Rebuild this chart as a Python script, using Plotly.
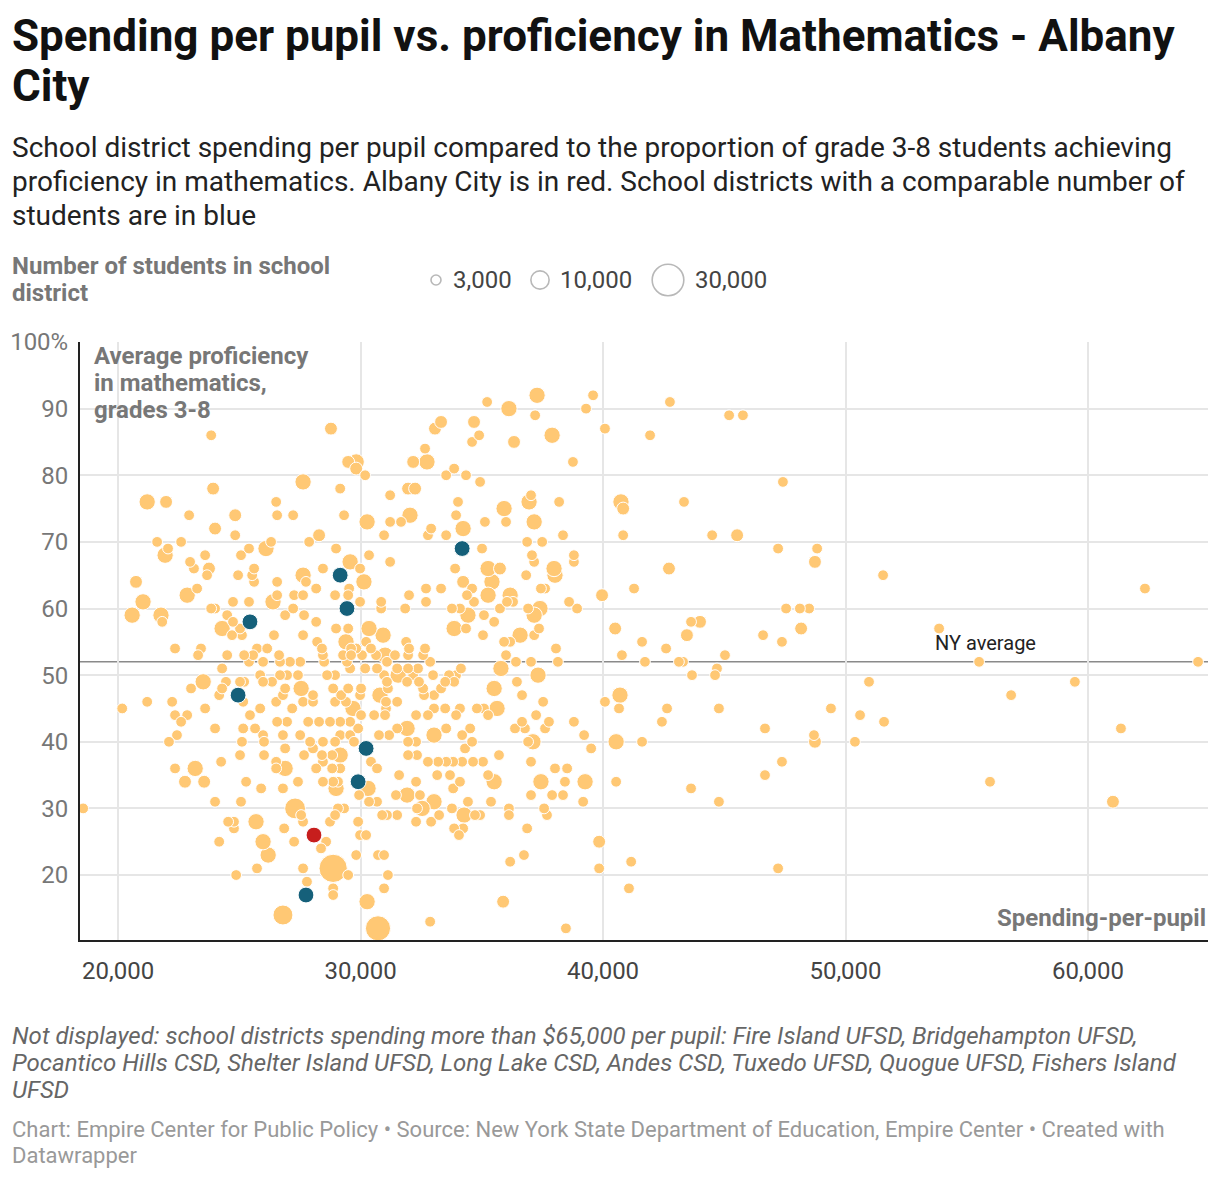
import pandas as pd
import plotly.graph_objects as go

# School districts (orange): spending per pupil ($), % proficient in math (grades 3-8), enrolled students
spending = [
    37280, 39590,                                              # 92
    35220, 42760,                                              # 91
    36120, 39300,                                              # 90
    37200, 45200, 45770,                                       # 89
    33320, 34680,                                              # 88
    28780, 33070, 40080,                                       # 87
    23840, 34890, 37900, 41940,                                # 86
    34600, 36330,                                              # 85
    32660,                                                     # 84
    29490, 29820, 32170, 32740, 38760,                         # 82
    29820, 33860,                                              # 81
    30190, 33530, 34350,                                       # 80
    27630, 34930, 47420,                                       # 79
    23920, 29160, 31960, 32250,                                # 78
    31220, 37030,                                              # 77
    21200, 21980, 26520, 34020, 36950, 38190, 40740, 43340,    # 76
    35920, 40830,                                              # 75
    22930, 24830, 26560, 27220, 29320, 32040, 33940,           # 74
    30270, 31220, 31670, 35130, 36000, 37160,                  # 73
    24000, 32910, 34230,                                       # 72
    24830, 28290, 30970, 32780, 33530, 38350, 40830, 44500, 45530,  # 71
    21610, 22600, 26310, 27880, 36870, 37490,                  # 70
    22060, 25400, 26100, 28990, 35010, 47220, 48830,           # 69
    21940, 23590, 25070, 30350, 37070, 38800,                  # 68
    22970, 29570, 31220, 37160, 38800, 48740,                  # 67
    23130, 23750, 25610, 28450, 29980, 33900, 35260, 35750, 37980, 42720,  # 66
    23670, 24950, 25530, 27630, 36830, 38020, 51550,           # 65
    20740, 25610, 26560, 27750, 30140, 34230, 35420,           # 64
    23260, 28170, 29530, 32700, 33320, 34600, 37440, 37610, 41280, 62350,  # 63
    22850, 26560, 27260, 27630, 28950, 29490, 32000, 34390, 35260, 36170, 39960,  # 62
    21030, 24740, 25400, 26390, 29980, 30850, 32700, 34680, 36040, 36290, 38600,  # 61
    23840, 24000, 27220, 30850, 31840, 33770, 34100, 35750, 36910, 37400, 38930, 47550, 48120, 48500,  # 60
    20580, 21770, 24500, 26890, 27670, 34430, 35090, 37160,    # 59
    21820, 24740, 28170, 35510, 43630, 44000,                  # 58
    24290, 25030, 28990, 29490, 30350, 33860, 34350, 37360, 40500, 48170, 53860,  # 57
    24700, 25110, 26430, 27630, 30930, 35050, 36580, 37160, 43460, 46600,  # 56
    28210, 29400, 30230, 31880, 35920, 36170, 41610, 47380,    # 55
    22350, 23420, 25730, 26150, 28410, 29610, 29820, 30430, 32000, 32660, 38060, 42600,  # 54
    23300, 24500, 25200, 25570, 26640, 28450, 29280, 29610, 30060, 30640, 31010, 31420, 31960, 32580, 36000, 40780, 45030,  # 53
    25400, 25980, 26680, 27090, 27510, 28500, 29440, 31090, 32870, 36410, 37030, 38140, 41730, 43130, 43300, 55510, 64540,  # 52
    24290, 29570, 30190, 30680, 31510, 31960, 32370, 34140, 35790, 44700,  # 51
    25860, 26680, 26970, 27420, 28620, 28950, 30970, 31550, 32170, 32990, 33650, 33940, 37320, 43670, 44620,  # 50
    23510, 24450, 25030, 25200, 25980, 26350, 31090, 31920, 32410, 33490, 33860, 36450, 50970, 59460,  # 49
    23010, 24290, 26890, 27550, 28870, 29490, 30020, 31130, 32580, 33320, 35510,  # 48
    24170, 26800, 28040, 29200, 29980, 30800, 32620, 33030, 36660, 40700, 56830,  # 47
    21200, 22230, 25160, 26520, 27630, 28040, 28950, 29400, 31050, 31510, 37530, 40080,  # 46
    20170, 23590, 25860, 27180, 29690, 31050, 33030, 33490, 34100, 34800, 35090, 35630, 40660, 42640, 44780, 49400,  # 45
    22350, 22850, 25440, 30020, 30560, 31010, 32290, 32780, 33940, 35260, 37240, 50600,  # 44
    22600, 26560, 26970, 27840, 28290, 28740, 29160, 29570, 36660, 37770, 38800, 42430, 51590,  # 43
    24000, 25160, 25650, 29900, 31510, 31920, 33530, 34520, 36370, 36780, 37610, 46680, 61360,  # 42
    22430, 25980, 26800, 27510, 29160, 29570, 30760, 31180, 33030, 34190, 39220, 48700,  # 41
    22100, 25110, 26020, 27920, 28450, 28950, 29730, 31960, 32290, 34600, 36910, 37110, 40540, 41610, 48740, 50390,  # 40
    26890, 28040, 34310, 39510,                                # 39
    25030, 26020, 27670, 28410, 28830, 29160, 31960, 32330, 35710,  # 38
    24250, 26520, 28450, 30430, 32780, 33200, 33530, 33820, 34190, 34640, 35050, 37030, 47380,  # 37
    22350, 23180, 26520, 26890, 28170, 28830, 29160, 30680, 38020, 38520,  # 36
    31590, 33160, 33690, 35260, 46680,                         # 35
    22760, 23550, 25280, 27420, 28450, 28870, 29070, 32290, 34100, 35510, 37440, 38430, 39260, 40540, 55960,  # 34
    25900, 26800, 28990, 30310, 33820, 43630,                  # 33
    29940, 31460, 31920, 32450, 37030, 37900, 38350,           # 32
    24000, 25070, 30350, 30680, 33030, 34430, 35380, 39180, 44780, 61030,  # 31
    18560, 27300, 29070, 29320, 32330, 32540, 33770, 36120, 37570,  # 30
    27550, 28950, 30890, 31090, 31510, 33240, 34270, 34720, 34930, 36120, 37690,  # 29
    24540, 24780, 25690, 27630, 28740, 29900, 32290, 32910,    # 28
    24780, 26850, 33860, 34230, 36870,                         # 27
    29980, 30230, 34060,                                       # 26
    24170, 25980, 27260, 28580, 39840,                         # 25
    28370,                                                     # 24
    26190, 29820, 30720, 30970, 36740,                         # 23
    36170, 41160,                                              # 22
    25730, 27630, 28870, 39840, 47220,                         # 21
    24870, 29490, 31130,                                       # 20
    27790,                                                     # 19
    28870, 30970, 41070,                                       # 18
    28870,                                                     # 17
    30270, 35880,                                              # 16
    26800,                                                     # 14
    32870,                                                     # 13
    30720, 38470,                                              # 12
]

proficiency = [
    92, 92,
    91, 91,
    90, 90,
    89, 89, 89,
    88, 88,
    87, 87, 87,
    86, 86, 86, 86,
    85, 85,
    84,
    82, 82, 82, 82, 82,
    81, 81,
    80, 80, 80,
    79, 79, 79,
    78, 78, 78, 78,
    77, 77,
    76, 76, 76, 76, 76, 76, 76, 76,
    75, 75,
    74, 74, 74, 74, 74, 74, 74,
    73, 73, 73, 73, 73, 73,
    72, 72, 72,
    71, 71, 71, 71, 71, 71, 71, 71, 71,
    70, 70, 70, 70, 70, 70,
    69, 69, 69, 69, 69, 69, 69,
    68, 68, 68, 68, 68, 68,
    67, 67, 67, 67, 67, 67,
    66, 66, 66, 66, 66, 66, 66, 66, 66, 66,
    65, 65, 65, 65, 65, 65, 65,
    64, 64, 64, 64, 64, 64, 64,
    63, 63, 63, 63, 63, 63, 63, 63, 63, 63,
    62, 62, 62, 62, 62, 62, 62, 62, 62, 62, 62,
    61, 61, 61, 61, 61, 61, 61, 61, 61, 61, 61,
    60, 60, 60, 60, 60, 60, 60, 60, 60, 60, 60, 60, 60, 60,
    59, 59, 59, 59, 59, 59, 59, 59,
    58, 58, 58, 58, 58, 58,
    57, 57, 57, 57, 57, 57, 57, 57, 57, 57, 57,
    56, 56, 56, 56, 56, 56, 56, 56, 56, 56,
    55, 55, 55, 55, 55, 55, 55, 55,
    54, 54, 54, 54, 54, 54, 54, 54, 54, 54, 54, 54,
    53, 53, 53, 53, 53, 53, 53, 53, 53, 53, 53, 53, 53, 53, 53, 53, 53,
    52, 52, 52, 52, 52, 52, 52, 52, 52, 52, 52, 52, 52, 52, 52, 52, 52,
    51, 51, 51, 51, 51, 51, 51, 51, 51, 51,
    50, 50, 50, 50, 50, 50, 50, 50, 50, 50, 50, 50, 50, 50, 50,
    49, 49, 49, 49, 49, 49, 49, 49, 49, 49, 49, 49, 49, 49,
    48, 48, 48, 48, 48, 48, 48, 48, 48, 48, 48,
    47, 47, 47, 47, 47, 47, 47, 47, 47, 47, 47,
    46, 46, 46, 46, 46, 46, 46, 46, 46, 46, 46, 46,
    45, 45, 45, 45, 45, 45, 45, 45, 45, 45, 45, 45, 45, 45, 45, 45,
    44, 44, 44, 44, 44, 44, 44, 44, 44, 44, 44, 44,
    43, 43, 43, 43, 43, 43, 43, 43, 43, 43, 43, 43, 43,
    42, 42, 42, 42, 42, 42, 42, 42, 42, 42, 42, 42, 42,
    41, 41, 41, 41, 41, 41, 41, 41, 41, 41, 41, 41,
    40, 40, 40, 40, 40, 40, 40, 40, 40, 40, 40, 40, 40, 40, 40, 40,
    39, 39, 39, 39,
    38, 38, 38, 38, 38, 38, 38, 38, 38,
    37, 37, 37, 37, 37, 37, 37, 37, 37, 37, 37, 37, 37,
    36, 36, 36, 36, 36, 36, 36, 36, 36, 36,
    35, 35, 35, 35, 35,
    34, 34, 34, 34, 34, 34, 34, 34, 34, 34, 34, 34, 34, 34, 34,
    33, 33, 33, 33, 33, 33,
    32, 32, 32, 32, 32, 32, 32,
    31, 31, 31, 31, 31, 31, 31, 31, 31, 31,
    30, 30, 30, 30, 30, 30, 30, 30, 30,
    29, 29, 29, 29, 29, 29, 29, 29, 29, 29, 29,
    28, 28, 28, 28, 28, 28, 28, 28,
    27, 27, 27, 27, 27,
    26, 26, 26,
    25, 25, 25, 25, 25,
    24,
    23, 23, 23, 23, 23,
    22, 22,
    21, 21, 21, 21, 21,
    20, 20, 20,
    19,
    18, 18, 18,
    17,
    16, 16,
    14,
    13,
    12, 12,
]

students = [
    8000, 3500,
    3500, 3500,
    8000, 3500,
    3500, 3500, 3500,
    5000, 5000,
    5000, 5000, 3500,
    3500, 3500, 8000, 3500,
    3500, 5000,
    3500,
    5000, 8000, 5000, 8000, 3500,
    5000, 3500,
    3500, 3500, 3500,
    8000, 3500, 3500,
    5000, 3500, 5000, 5000,
    3500, 3500,
    8000, 5000, 3500, 3500, 8000, 3500, 8000, 3500,
    8000, 5000,
    3500, 5000, 3500, 3500, 3500, 8000, 3500,
    8000, 3500, 3500, 3500, 3500, 8000,
    5000, 3500, 8000,
    3500, 5000, 3500, 3500, 3500, 3500, 3500, 3500, 5000,
    3500, 3500, 3500, 3500, 3500, 3500,
    3500, 3500, 8000, 3500, 3500, 3500, 3500,
    8000, 3500, 3500, 3500, 3500, 3500,
    3500, 8000, 3500, 3500, 3500, 5000,
    3500, 5000, 3500, 3500, 3500, 3500, 8000, 5000, 8000, 5000,
    3500, 3500, 3500, 8000, 3500, 8000, 3500,
    5000, 3500, 3500, 3500, 8000, 5000, 8000,
    3500, 3500, 3500, 3500, 3500, 3500, 3500, 3500, 3500, 3500,
    8000, 3500, 3500, 3500, 3500, 3500, 3500, 3500, 8000, 8000, 5000,
    8000, 3500, 3500, 8000, 3500, 3500, 3500, 3500, 3500, 3500, 3500,
    3500, 3500, 3500, 3500, 3500, 3500, 3500, 3500, 3500, 8000, 3500, 3500, 3500, 3500,
    8000, 8000, 3500, 3500, 3500, 8000, 3500, 8000,
    3500, 3500, 3500, 3500, 3500, 5000,
    8000, 3500, 3500, 3500, 8000, 8000, 3500, 3500, 5000, 5000, 3500,
    3500, 3500, 3500, 3500, 8000, 3500, 8000, 3500, 5000, 3500,
    3500, 8000, 3500, 3500, 3500, 3500, 3500, 3500,
    3500, 3500, 3500, 3500, 3500, 3500, 3500, 3500, 3500, 3500, 3500, 3500,
    3500, 3500, 3500, 3500, 3500, 3500, 3500, 3500, 3500, 3500, 8000, 3500, 3500, 3500, 3500, 3500, 3500,
    3500, 3500, 3500, 3500, 3500, 3500, 3500, 3500, 3500, 3500, 3500, 3500, 3500, 3500, 3500, 3500, 3500,
    3500, 3500, 3500, 3500, 3500, 3500, 3500, 3500, 8000, 3500,
    3500, 3500, 3500, 3500, 3500, 3500, 3500, 8000, 3500, 3500, 3500, 3500, 8000, 3500, 3500,
    8000, 3500, 3500, 3500, 3500, 3500, 3500, 3500, 3500, 3500, 3500, 3500, 3500, 3500,
    3500, 3500, 3500, 8000, 3500, 3500, 3500, 3500, 3500, 3500, 8000,
    3500, 3500, 3500, 3500, 3500, 8000, 3500, 3500, 3500, 8000, 3500,
    3500, 3500, 3500, 3500, 3500, 3500, 3500, 3500, 3500, 3500, 3500, 3500,
    3500, 3500, 3500, 3500, 8000, 3500, 3500, 3500, 3500, 3500, 3500, 8000, 3500, 3500, 3500, 3500,
    3500, 3500, 3500, 3500, 3500, 3500, 3500, 3500, 3500, 3500, 3500, 3500,
    3500, 3500, 3500, 3500, 3500, 3500, 3500, 3500, 3500, 3500, 3500, 3500, 3500,
    3500, 3500, 3500, 3500, 3500, 8000, 3500, 3500, 3500, 3500, 3500, 3500, 3500,
    3500, 3500, 3500, 3500, 3500, 3500, 3500, 3500, 8000, 3500, 3500, 3500,
    3500, 3500, 3500, 3500, 3500, 3500, 3500, 3500, 3500, 3500, 3500, 8000, 8000, 3500, 5000, 3500,
    3500, 3500, 3500, 3500,
    3500, 3500, 3500, 3500, 3500, 8000, 3500, 3500, 3500,
    3500, 3500, 3500, 3500, 3500, 3500, 3500, 3500, 3500, 3500, 3500, 3500, 3500,
    3500, 8000, 3500, 8000, 3500, 3500, 3500, 3500, 3500, 3500,
    3500, 3500, 3500, 3500, 3500,
    5000, 5000, 3500, 3500, 3500, 3500, 3500, 3500, 3500, 8000, 8000, 3500, 8000, 3500, 3500,
    3500, 3500, 8000, 8000, 3500, 3500,
    3500, 3500, 8000, 3500, 3500, 3500, 3500,
    3500, 3500, 3500, 3500, 8000, 3500, 3500, 3500, 3500, 5000,
    3500, 13000, 3500, 3500, 3500, 8000, 3500, 3500, 3500,
    3500, 3500, 3500, 3500, 3500, 3500, 8000, 3500, 3500, 3500, 3500,
    3500, 3500, 8000, 3500, 3500, 3500, 3500, 3500,
    3500, 3500, 3500, 3500, 3500,
    3500, 3500, 3500,
    3500, 8000, 3500, 3500, 5000,
    3500,
    8000, 3500, 3500, 3500, 3500,
    3500, 3500,
    3500, 3500, 24000, 3500, 3500,
    3500, 3500, 3500,
    3500,
    3500, 3500, 3500,
    3500,
    8000, 5000,
    12000,
    3500,
    19000, 3500,
]

# Districts with a comparable number of students (blue)
comp_spending = [34190, 29160, 29440, 25440, 24950, 30230, 29900, 27750]
comp_proficiency = [69, 65, 60, 58, 47, 39, 34, 17]
comp_students = [7500, 7500, 7500, 7500, 7500, 7500, 7500, 7500]

# Albany City (red)
albany_spending = [28080]
albany_proficiency = [26]
albany_students = [7500]

ny_average = 52

assert len(spending) == len(proficiency) == len(students)

df = pd.DataFrame({'spending': spending, 'proficiency': proficiency, 'students': students})
df = df.sort_values('students', ascending=False)

# the page body adds an 8px margin, so the figure is 8px smaller than the window
W, H = 1212, 1170
L, R, T, B = 72, 12, 334, 238


# positions below are given in window pixels; the plot box sits at x 80..1208, y 342..940
def px(x):
    return (x - 80) / 1128


def py(y):
    return (940 - y) / 598


def bubble(xs, ys, ns, color):
    return go.Scatter(
        x=xs, y=ys, mode='markers', hoverinfo='skip',
        marker=dict(size=ns, sizemode='area', sizeref=60, color=color,
                    opacity=1, line=dict(color='white', width=1)))


fig = go.Figure()
fig.add_trace(bubble(df.spending, df.proficiency, df.students, '#ffc874'))
fig.add_trace(bubble(comp_spending, comp_proficiency, comp_students, '#15607a'))
fig.add_trace(bubble(albany_spending, albany_proficiency, albany_students, '#c71e1d'))

annotations = []


def note(text, x, y, size, color='#222', bold=False, italic=False, anchor='left'):
    if bold:
        text = '<b>' + text + '</b>'
    if italic:
        text = '<i>' + text + '</i>'
    annotations.append(dict(text=text, x=px(x), y=py(y), xref='paper', yref='paper',
                            xanchor=anchor, yanchor='middle', showarrow=False,
                            font=dict(size=size, color=color, family='Roboto')))


# title and description
note('Spending per pupil vs. proficiency in Mathematics - Albany', 10, 36, 44, '#111', bold=True)
note('City', 10, 86, 44, '#111', bold=True)
note('School district spending per pupil compared to the proportion of grade 3-8 students achieving', 10, 147, 28, '#222')
note('proficiency in mathematics. Albany City is in red. School districts with a comparable number of', 10, 181, 28, '#222')
note('students are in blue', 10, 215, 28, '#222')

# size legend
note('Number of students in school', 10, 266, 24, '#777', bold=True)
note('district', 10, 293, 24, '#777', bold=True)
legend_sizes = [(3000, '3,000', 436, 451), (10000, '10,000', 540, 558), (30000, '30,000', 668, 693)]
shapes = []
for n, label, cx, tx in legend_sizes:
    r = 5 * (n / 3000) ** 0.5
    shapes.append(dict(type='circle', xref='paper', yref='paper', xsizemode='pixel', ysizemode='pixel',
                       xanchor=px(cx), yanchor=py(280), x0=-r, x1=r, y0=-r, y1=r,
                       line=dict(color='#b8b8b8', width=1.6), fillcolor='rgba(0,0,0,0)'))
    note(label, tx, 280, 24, '#444')

# axis titles inside the plot
note('Average proficiency', 92, 356, 24, '#777', bold=True)
note('in mathematics,', 92, 383, 24, '#777', bold=True)
note('grades 3-8', 92, 410, 24, '#777', bold=True)
note('Spending-per-pupil', 1208, 918, 24, '#777', bold=True, anchor='right')

# NY average line
shapes.append(dict(type='line', xref='paper', yref='y', x0=0, x1=1, y0=ny_average, y1=ny_average,
                   line=dict(color='#8a8a8a', width=1.6), layer='between'))
note('NY average', 985, 643, 20, '#222', anchor='center')

# footnotes
note('Not displayed: school districts spending more than $65,000 per pupil: Fire Island UFSD, Bridgehampton UFSD,',
     10, 1036, 24, '#666', italic=True)
note('Pocantico Hills CSD, Shelter Island UFSD, Long Lake CSD, Andes CSD, Tuxedo UFSD, Quogue UFSD, Fishers Island',
     10, 1063, 24, '#666', italic=True)
note('UFSD', 10, 1090, 24, '#666', italic=True)
note('Chart: Empire Center for Public Policy \u2022 Source: New York State Department of Education, Empire Center \u2022 Created with',
     10, 1129, 22, '#999')
note('Datawrapper', 10, 1155, 22, '#999')

y_ticks = [20, 30, 40, 50, 60, 70, 80, 90, 100]
y_labels = ['20', '30', '40', '50', '60', '70', '80', '90', '100%']
x_ticks = [20000, 30000, 40000, 50000, 60000]

fig.update_layout(
    width=W, height=H,
    margin=dict(l=L, r=R, t=T, b=B, autoexpand=False),
    paper_bgcolor='white', plot_bgcolor='white',
    font=dict(family='Roboto', color='#333'),
    showlegend=False,
    annotations=annotations,
    shapes=shapes,
    xaxis=dict(range=[18430, 64950], tickvals=x_ticks, tickformat=',', showgrid=True,
               gridcolor='#e6e6e6', gridwidth=1.5, zeroline=False, showline=True,
               linecolor='#222', linewidth=2, ticks='', ticklabelstandoff=8,
               tickfont=dict(size=24, color='#444')),
    yaxis=dict(range=[10.25, 100], tickvals=y_ticks, ticktext=y_labels, showgrid=True,
               gridcolor='#e6e6e6', gridwidth=1.5, zeroline=False, showline=True,
               linecolor='#222', linewidth=2, ticks='', ticklabelstandoff=5,
               tickfont=dict(size=24, color='#777')),
)

fig.write_html("out.html")
